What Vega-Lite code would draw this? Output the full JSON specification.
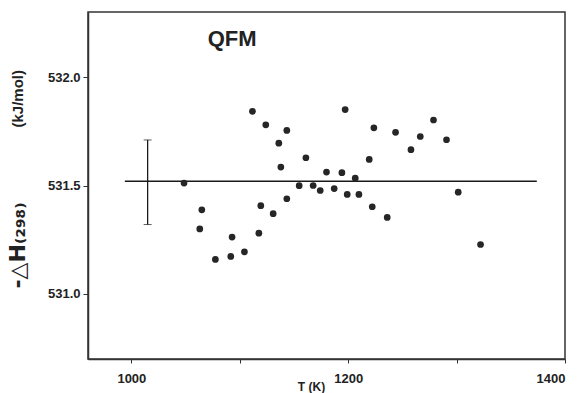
{
  "$schema": "https://vega.github.io/schema/vega-lite/v6.json",
  "width": 477,
  "height": 347,
  "autosize": {"type": "none"},
  "padding": {"left": 88, "top": 12, "right": 20, "bottom": 34},
  "background": "white",
  "title": {"text": "(kJ/mol)", "orient": "left", "anchor": "end", "frame": "group", "font": "Liberation Sans", "fontSize": 15, "fontWeight": "bold", "color": "#222", "offset": -20, "dx": -58},
  "config": {
    "view": {"stroke": "#333", "strokeWidth": 1.5},
    "font": "Liberation Sans"
  },
  "datasets": {
    "pts": [
      {"T": 1048.6, "H": 531.511},
      {"T": 1065.0, "H": 531.388},
      {"T": 1063.1, "H": 531.300},
      {"T": 1077.5, "H": 531.159},
      {"T": 1091.7, "H": 531.173},
      {"T": 1092.9, "H": 531.262},
      {"T": 1104.3, "H": 531.194},
      {"T": 1117.6, "H": 531.280},
      {"T": 1111.7, "H": 531.842},
      {"T": 1119.4, "H": 531.407},
      {"T": 1124.0, "H": 531.780},
      {"T": 1130.8, "H": 531.370},
      {"T": 1136.0, "H": 531.695},
      {"T": 1137.9, "H": 531.585},
      {"T": 1143.4, "H": 531.754},
      {"T": 1143.4, "H": 531.439},
      {"T": 1154.8, "H": 531.499},
      {"T": 1161.0, "H": 531.628},
      {"T": 1167.7, "H": 531.500},
      {"T": 1174.2, "H": 531.477},
      {"T": 1180.0, "H": 531.562},
      {"T": 1187.1, "H": 531.486},
      {"T": 1194.2, "H": 531.559},
      {"T": 1197.2, "H": 531.850},
      {"T": 1199.1, "H": 531.459},
      {"T": 1206.5, "H": 531.534},
      {"T": 1209.9, "H": 531.459},
      {"T": 1219.4, "H": 531.620},
      {"T": 1222.2, "H": 531.402},
      {"T": 1223.7, "H": 531.766},
      {"T": 1236.0, "H": 531.353},
      {"T": 1243.7, "H": 531.745},
      {"T": 1257.9, "H": 531.665},
      {"T": 1266.5, "H": 531.726},
      {"T": 1278.7, "H": 531.802},
      {"T": 1290.7, "H": 531.711},
      {"T": 1301.5, "H": 531.469},
      {"T": 1322.1, "H": 531.228}
    ],
    "ref": [{"T1": 994, "T2": 1374, "H": 531.52}],
    "err": [{"T": 1015, "lo": 531.32, "hi": 531.71}],
    "lbl": [{"label": "QFM"}]
  },
  "layer": [
    {
      "data": {"name": "ref"},
      "mark": {"type": "rule", "color": "#1a1a1a", "strokeWidth": 1.5},
      "encoding": {
        "x": {"field": "T1", "type": "quantitative", "title": "T (K)", "scale": {"domain": [960, 1400], "nice": false, "zero": false},
          "axis": {"values": [1000, 1100, 1200, 1300, 1400], "format": "d", "labelExpr": "datum.value % 200 === 0 ? datum.label : ''", "grid": false, "tickSize": 4, "tickColor": "#333", "domainColor": "#333", "domainWidth": 1.5, "labelPadding": 9, "labelFontSize": 13, "labelFontWeight": "bold", "labelColor": "#222", "labelFont": "Liberation Sans", "titleFont": "Liberation Sans", "titleFontSize": 12, "titleFontWeight": "bold", "titleColor": "#222", "titleX": 223, "titleY": 22, "titleBaseline": "top", "titleAlign": "center"}},
        "x2": {"field": "T2"},
        "y": {"field": "H", "type": "quantitative", "title": "-△H₍₂₉₈₎", "scale": {"domain": [530.7, 532.3], "nice": false, "zero": false},
          "axis": {"values": [531.0, 531.5, 532.0], "format": ".1f", "grid": false, "tickSize": 5, "tickColor": "#333", "domainColor": "#333", "domainWidth": 1.5, "labelPadding": 3, "labelFontSize": 13, "labelFontWeight": "bold", "labelColor": "#222", "labelFont": "Liberation Sans", "titleFont": "DejaVu Sans", "titleFontSize": 22, "titleFontWeight": "bold", "titleColor": "#222", "titleAngle": 270, "titleX": -71, "titleY": 233, "titleAlign": "center", "titleBaseline": "middle"}}
      }
    },
    {
      "data": {"name": "err"},
      "mark": {"type": "errorbar", "ticks": {"size": 8, "color": "#1a1a1a"}, "rule": {"color": "#1a1a1a", "strokeWidth": 1.3}},
      "encoding": {
        "x": {"field": "T", "type": "quantitative", "title": "T (K)"},
        "y": {"field": "lo", "type": "quantitative", "title": "-△H₍₂₉₈₎"},
        "y2": {"field": "hi"}
      }
    },
    {
      "data": {"name": "pts"},
      "mark": {"type": "circle", "size": 45, "color": "#262626", "opacity": 1},
      "encoding": {
        "x": {"field": "T", "type": "quantitative", "title": "T (K)"},
        "y": {"field": "H", "type": "quantitative", "title": "-△H₍₂₉₈₎"}
      }
    },
    {
      "data": {"name": "lbl"},
      "mark": {"type": "text", "font": "Liberation Sans", "fontSize": 22, "fontWeight": "bold", "color": "#222", "align": "center", "baseline": "alphabetic"},
      "encoding": {
        "text": {"field": "label"},
        "x": {"datum": 1093, "type": "quantitative"},
        "y": {"datum": 532.145, "type": "quantitative"}
      }
    }
  ]
}
